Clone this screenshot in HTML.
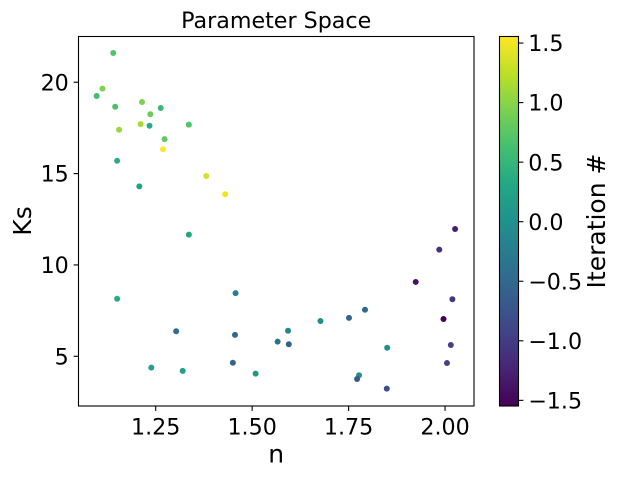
<!DOCTYPE html>
<html>
<head>
<meta charset="utf-8">
<style>
html,body{margin:0;padding:0;background:#fff;}
svg{display:block;}
text{font-family:"DejaVu Sans",sans-serif;fill:#000;}
</style>
</head>
<body>
<svg id="chart" xmlns="http://www.w3.org/2000/svg" width="620" height="478" viewBox="0 0 620 478">
  <rect x="0" y="0" width="620" height="478" fill="#fff"/>
  <defs>
    <linearGradient id="cbar-gradient" x1="0" y1="1" x2="0" y2="0"></linearGradient>
  </defs>
  <text x="276.2" y="28" font-size="22.2" text-anchor="middle">Parameter Space</text>
  <rect x="78.5" y="36.5" width="395.5" height="369.5" fill="#fff"/>
  <g id="points"></g>
  <rect x="78.5" y="36.5" width="395.5" height="369.5" fill="none" stroke="#000" stroke-width="1.1"/>
  <g id="x-axis"></g>
  <g id="y-axis"></g>
  <text x="276.2" y="462.5" font-size="25" text-anchor="middle">n</text>
  <text transform="translate(31,221) rotate(-90)" font-size="25" text-anchor="middle">Ks</text>
  <rect x="499.5" y="36.5" width="19" height="369.5" fill="url(#cbar-gradient)" stroke="#000" stroke-width="1.1"/>
  <g id="cbar-axis"></g>
  <text transform="translate(605,221) rotate(-90)" font-size="25" text-anchor="middle">Iteration #</text>
</svg>
<script>
var nValues = [1.140,1.112,1.097,1.145,1.2145,1.263,1.236,1.211,1.234,1.336,1.155,1.273,1.269,1.150,1.381,1.430,1.2075,1.336,1.150,1.303,1.457,1.4555,1.450,1.2386,1.320,1.509,1.566,1.593,1.595,1.677,1.751,1.7925,1.850,1.777,1.772,1.849,2.026,1.985,1.924,2.019,1.996,2.015,2.005];
var ksValues = [21.6,19.65,19.25,18.66,18.92,18.59,18.25,17.71,17.62,17.68,17.4,16.89,16.33,15.7,14.87,13.87,14.3,11.66,8.15,6.37,8.46,6.17,4.65,4.38,4.2,4.05,5.8,6.4,5.66,6.93,7.1,7.55,5.47,3.96,3.76,3.23,11.97,10.84,9.07,8.12,7.04,5.62,4.63];
var iterationValues = [0.7,0.95,0.6,0.65,0.95,0.55,0.85,1.15,0.4,0.7,1.1,0.8,1.55,0.4,1.35,1.5,0.25,0.3,0.35,-0.45,-0.25,-0.5,-0.55,0.25,0.2,0.1,-0.35,-0.15,-0.6,-0.05,-0.55,-0.5,0.0,0.0,-0.7,-0.8,-1.3,-1.1,-1.4,-1.05,-1.55,-0.95,-0.95];
var xTicks = [1.25,1.5,1.75,2.0];
var xTickLabels = ["1.25","1.50","1.75","2.00"];
var yTicks = [5,10,15,20];
var yTickLabels = ["5","10","15","20"];
var cbarTicks = [1.5,1.0,0.5,0,-0.5,-1.0,-1.5];
var cbarTickLabels = ["1.5","1.0","0.5","0.0","\u22120.5","\u22121.0","\u22121.5"];
var viridisStops = ["#440154","#482475","#414487","#355f8d","#2a788e","#21918c","#22a884","#44bf70","#7ad151","#bddf26","#fde725"];

var SVG_NS = "http://www.w3.org/2000/svg";
function xScale(v){ return 155.7 + (v - 1.25) * 385.8; }
function yScale(v){ return 356.3 - (v - 5) * 18.27; }
function cScale(v){ return 221.7 - v * 119.1; }
var cMin = -1.55, cMax = 1.56;
function hexToRgb(h){ return [parseInt(h.substr(1,2),16),parseInt(h.substr(3,2),16),parseInt(h.substr(5,2),16)]; }
function viridis(t){
  t = Math.max(0, Math.min(1, t));
  var p = t * (viridisStops.length - 1);
  var i = Math.min(Math.floor(p), viridisStops.length - 2);
  var f = p - i;
  var a = hexToRgb(viridisStops[i]), b = hexToRgb(viridisStops[i + 1]);
  return "rgb(" + Math.round(a[0] + (b[0] - a[0]) * f) + "," + Math.round(a[1] + (b[1] - a[1]) * f) + "," + Math.round(a[2] + (b[2] - a[2]) * f) + ")";
}
function make(tag, attrs, parent){
  var el = document.createElementNS(SVG_NS, tag);
  for (var k in attrs) { el.setAttribute(k, attrs[k]); }
  parent.appendChild(el);
  return el;
}

var grad = document.getElementById("cbar-gradient");
viridisStops.forEach(function(c, i){
  make("stop", {offset: (i / (viridisStops.length - 1)), "stop-color": c}, grad);
});

var pointsGroup = document.getElementById("points");
nValues.forEach(function(n, i){
  var dot = make("circle", {cx: xScale(n), cy: yScale(ksValues[i]), r: 3, fill: viridis((iterationValues[i] - cMin) / (cMax - cMin))}, pointsGroup);
  
  
});

var xAxis = document.getElementById("x-axis");
xTicks.forEach(function(v, i){
  var x = xScale(v);
  var tick = make("line", {x1: x, x2: x, y1: 406, y2: 410.9, stroke: "#000", "stroke-width": 1.1}, xAxis);
  
  
  var label = make("text", {x: x, y: 434.3, "font-size": 22.2, "text-anchor": "middle"}, xAxis);
  label.textContent = xTickLabels[i];
  
  
});

var yAxis = document.getElementById("y-axis");
yTicks.forEach(function(v, i){
  var y = yScale(v);
  var tick = make("line", {x1: 73.6, x2: 78.5, y1: y, y2: y, stroke: "#000", "stroke-width": 1.1}, yAxis);
  
  
  var label = make("text", {x: 68.8, y: y + 8.1, "font-size": 22.2, "text-anchor": "end"}, yAxis);
  label.textContent = yTickLabels[i];
  
  
});

var cbarAxis = document.getElementById("cbar-axis");
cbarTicks.forEach(function(v, i){
  var y = cScale(v);
  var tick = make("line", {x1: 518.5, x2: 523.4, y1: y, y2: y, stroke: "#000", "stroke-width": 1.1}, cbarAxis);
  
  
  var label = make("text", {x: 528.2, y: y + 8.1, "font-size": 22.2, "text-anchor": "start"}, cbarAxis);
  label.textContent = cbarTickLabels[i];
  
  
});
</script>
</body>
</html>
